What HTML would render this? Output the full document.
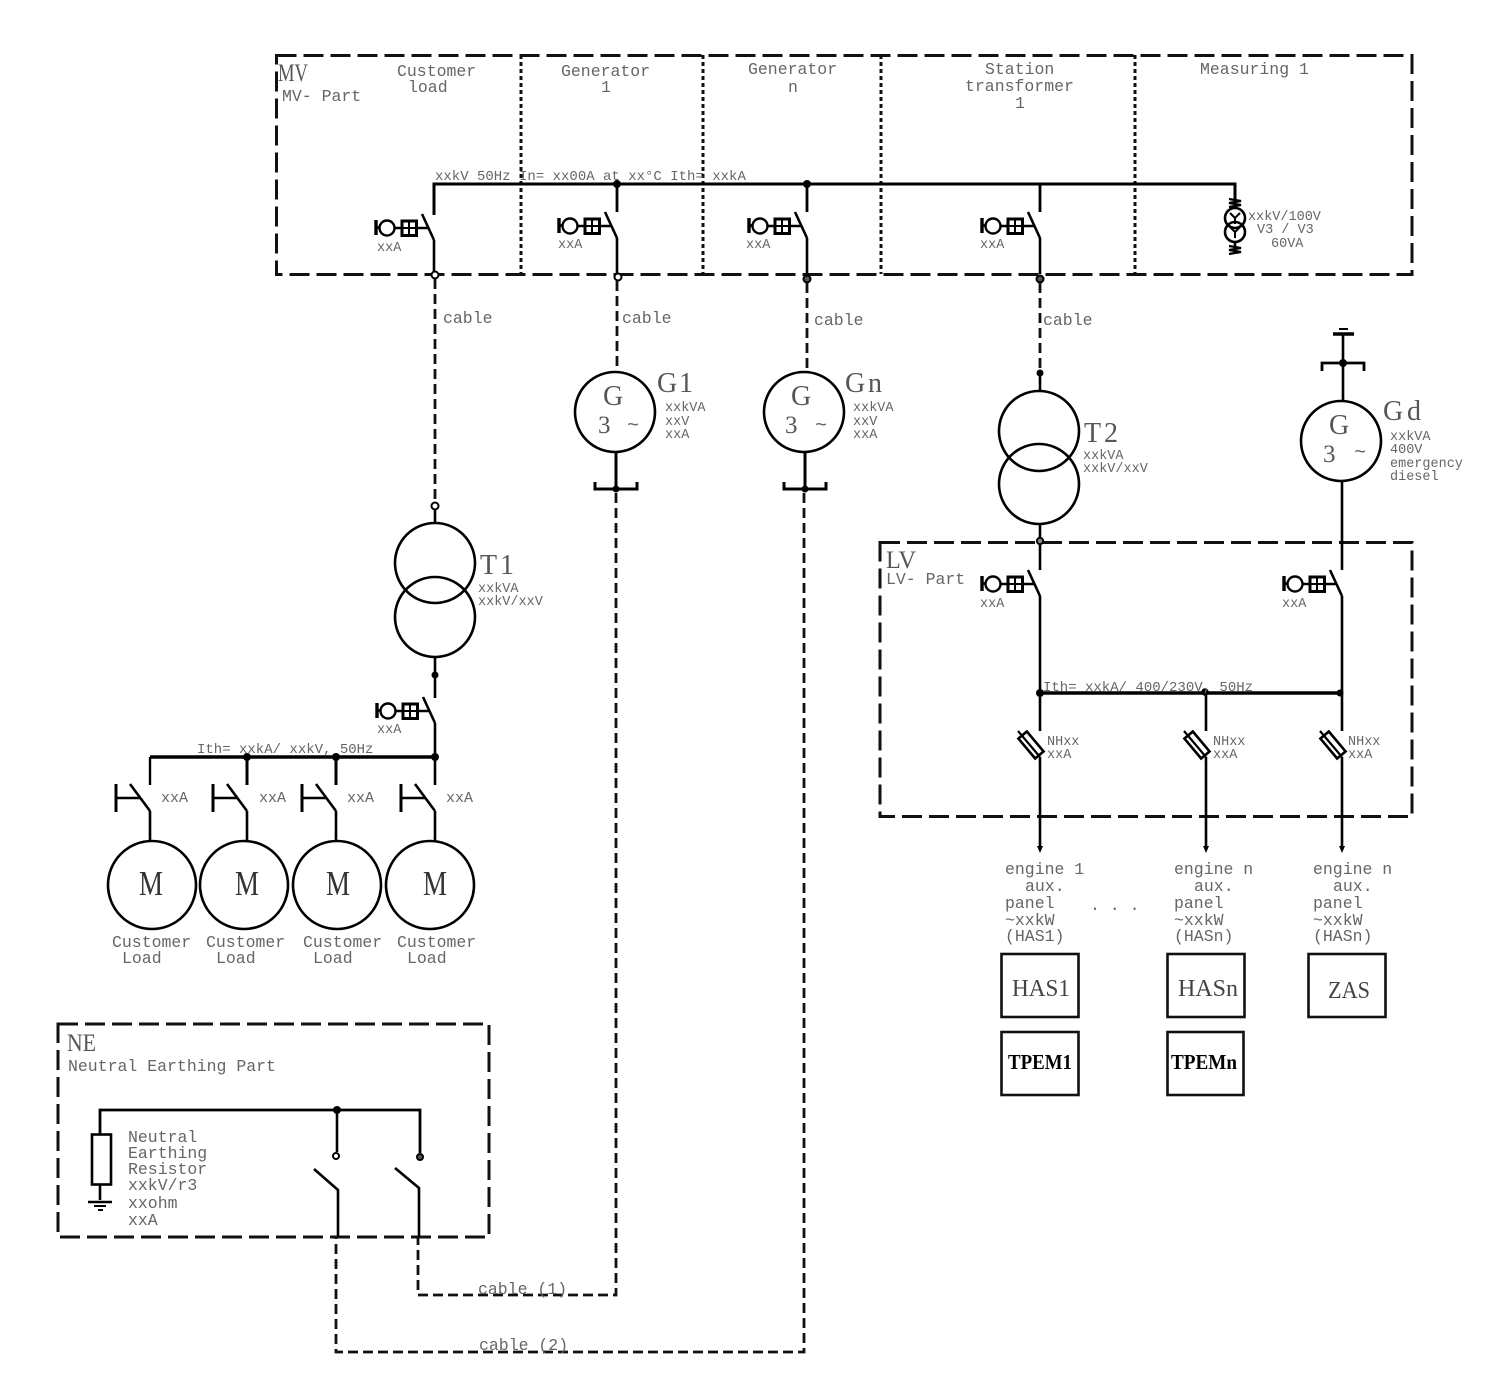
<!DOCTYPE html>
<html><head><meta charset="utf-8"><title>Single line diagram</title>
<style>
html,body{margin:0;padding:0;background:#fff}
svg{display:block}
text{font-family:"Liberation Mono",monospace;fill:#666;font-size:16.5px;white-space:pre}
.s{font-size:13.5px}
.m{font-size:14px}
.l{font-family:"Liberation Serif",serif;font-size:28px;fill:#555}
.b{font-family:"Liberation Serif",serif;font-size:25px;fill:#555}
.d{font-family:"Liberation Serif",serif;fill:#444;font-size:24px}
.k{font-family:"Liberation Serif",serif;fill:#000;font-size:21px;font-weight:bold}
.mm{font-family:"Liberation Serif",serif;fill:#333;font-size:35px}
.sym{fill:none;stroke:#000;stroke-width:2.6}
.bx{fill:none;stroke:#111;stroke-width:3;stroke-dasharray:20 7}
.dt{fill:none;stroke:#111;stroke-width:3;stroke-dasharray:4 3}
.cb{fill:none;stroke:#111;stroke-width:2.8;stroke-dasharray:10 5}
</style></head><body>
<svg width="1490" height="1400" viewBox="0 0 1490 1400" xmlns="http://www.w3.org/2000/svg">
<defs>
<g id="brk" class="sym">
<path d="M-58-20V-5" stroke-width="3.4"/><path d="M-58-12.500H-54"/>
<circle cx="-47" cy="-12" r="7.500" stroke-width="2.400"/>
<path d="M-39-12H-32M-18-12H-5"/>
<rect x="-32" y="-19" width="14.500" height="14.500" stroke-width="3"/><path d="M-25-19V-5M-32-12H-18" stroke-width="2"/>
<path d="M-12-26L0 0"/>
</g>
<g id="sw" class="sym">
<path d="M-34-14V14" stroke-width="3"/><path d="M-34 0H-10"/><path d="M-20-14L0 13"/>
</g>
<g id="fuse" class="sym">
<path d="M-22-26L0 0" stroke-width="2.200"/>
<rect x="-13" y="-5.500" width="26" height="11" transform="translate(-9 -12) rotate(50)" stroke-width="2.600"/>
</g>
<g id="brk2" class="sym"><path d="M-21-7V0H21V-7" stroke-width="3"/></g>
</defs>

<!-- boxes -->
<rect class="bx" x="276.500" y="55.500" width="1135.500" height="219"/>
<path class="dt" d="M521 55V274M703 55V274M881 55V274M1135 55V274"/>
<rect class="bx" x="880" y="542.500" width="532" height="274"/>
<rect class="bx" x="58" y="1024" width="431" height="213"/>

<!-- MV bus -->
<g class="sym">
<path d="M434 215V184H1235V205" stroke-width="3"/>
<path d="M617 184V212M807 184V212M1040 184V212" stroke-width="2.800"/>
<path d="M434 240V274M617 238V274M807 238V274M1040 238V274"/>
</g>
<use href="#brk" x="434" y="240"/>
<use href="#brk" x="617" y="238"/>
<use href="#brk" x="807" y="238"/>
<use href="#brk" x="1040" y="238"/>
<g fill="#000"><circle cx="617" cy="184" r="4"/><circle cx="807" cy="184" r="4"/></g>
<g stroke-width="2">
<circle cx="435" cy="275" r="3.500" fill="#fff" stroke="#000"/>
<circle cx="618" cy="277" r="3.500" fill="#fff" stroke="#000"/>
<circle cx="807" cy="279" r="3.500" fill="#555" stroke="#000"/>
<circle cx="1040" cy="279" r="3.500" fill="#555" stroke="#000"/>
</g>

<!-- VT -->
<g class="sym">
<circle cx="1235" cy="218" r="10" stroke-width="2.600"/><circle cx="1235" cy="232" r="10" stroke-width="2.600"/>
<path d="M1235 205V208M1235 242V254" />
<path d="M1229 199L1241 201L1229 203L1241 205L1229 207M1229 246L1241 248L1229 250L1241 252L1229 254" stroke-width="2.200"/>
<path d="M1235 218V224M1235 218L1230 213M1235 218L1240 213M1235 232V238M1235 232L1230 227M1235 232L1240 227" stroke-width="2"/>
</g>

<!-- cables -->
<path class="cb" d="M435 279V503"/>
<path class="cb" d="M617 281V372"/>
<path class="cb" d="M807 283V372"/>
<path class="cb" d="M1040 283V370"/>
<path class="cb" d="M616 493V1295H418V1237"/>
<path class="cb" d="M804 493V1352H336V1237"/>

<!-- T1 -->
<g class="sym">
<circle cx="435" cy="563" r="40"/><circle cx="435" cy="617" r="40"/>
<path d="M435 509V523M435 657V698M435 723V785"/>
<path d="M150 785V757" stroke-width="2.400"/><path d="M247 757V785M336 757V785" stroke-width="3"/>
<path d="M150 757H435" stroke-width="3.600"/>
<path d="M150 811V842M247 811V842M336 811V842M435 811V842"/>
<circle cx="152" cy="885" r="44"/><circle cx="244" cy="885" r="44"/><circle cx="337" cy="885" r="44"/><circle cx="430" cy="885" r="44"/>
</g>
<circle cx="435" cy="506" r="3.500" fill="#fff" stroke="#000" stroke-width="2"/>
<g fill="#000"><circle cx="435" cy="675" r="3.500"/><circle cx="247" cy="757" r="4"/><circle cx="336" cy="757" r="4"/><circle cx="435" cy="757" r="4"/></g>
<use href="#brk" x="435" y="723"/>
<use href="#sw" x="150" y="798"/>
<use href="#sw" x="247" y="798"/>
<use href="#sw" x="336" y="798"/>
<use href="#sw" x="435" y="798"/>

<!-- Generators -->
<g class="sym">
<circle cx="615" cy="412" r="40"/><circle cx="804" cy="412" r="40"/>
<path d="M616 452V489M805 452V489" stroke-width="3"/>
<circle cx="1039" cy="431" r="40"/><circle cx="1039" cy="484" r="40"/>
<path d="M1040 376V391M1040 524V570M1040 596V731M1040 757V850"/>
<circle cx="1341" cy="441" r="40"/>
<path d="M1343 335V401M1342 481V570M1342 596V731M1342 757V850"/>
<path d="M1206 693V731M1206 757V850"/>
<path d="M1040 693H1340" stroke-width="3.600"/>
<path d="M1322 371V363H1364V371" stroke-width="2.800"/>
<path d="M1333 334H1354" stroke-width="3.600"/><path d="M1339 329H1348" stroke-width="2"/>
</g>
<use href="#brk2" x="616" y="489"/>
<use href="#brk2" x="805" y="489"/>
<g fill="#000">
<circle cx="616" cy="489" r="3.500"/><circle cx="805" cy="489" r="3.500"/>
<circle cx="1343" cy="363" r="4"/>
<circle cx="1040" cy="693" r="4"/><circle cx="1205" cy="692" r="3.800"/><circle cx="1340" cy="693" r="3.500"/>
<circle cx="1040" cy="373" r="3.500"/>
<path d="M1037 846H1043L1040 853ZM1203 846H1209L1206 853ZM1339 846H1345L1342 853Z"/>
</g>
<circle cx="1040" cy="541" r="3.200" fill="#888" stroke="#000" stroke-width="1.800"/>
<use href="#brk" x="1040" y="596"/>
<use href="#brk" x="1342" y="596"/>
<use href="#fuse" x="1040" y="757"/>
<use href="#fuse" x="1206" y="757"/>
<use href="#fuse" x="1342" y="757"/>

<!-- NE -->
<g class="sym">
<path d="M100 1134V1110H420V1153" stroke-width="2.800"/>
<rect x="92" y="1134.500" width="19" height="50"/>
<path d="M100 1184V1200"/>
<path d="M88 1202H112" stroke-width="2.600"/><path d="M94 1206H106" stroke-width="2"/><path d="M98 1210H103" stroke-width="2"/>
<path d="M337 1110V1152"/>
<path d="M314 1169L338 1190V1237M395 1168L419 1188V1237"/>
</g>
<circle cx="337" cy="1110" r="4"/>
<circle cx="336" cy="1156" r="3" fill="#fff" stroke="#000" stroke-width="2"/>
<circle cx="420" cy="1157" r="3" fill="#555" stroke="#000" stroke-width="2"/>

<!-- Panels -->
<g fill="none" stroke="#111" stroke-width="2.600">
<rect x="1001.500" y="954" width="77" height="63"/>
<rect x="1167.500" y="954" width="77" height="63"/>
<rect x="1308.500" y="954" width="77" height="63"/>
<rect x="1001.500" y="1032" width="77" height="63"/>
<rect x="1167.500" y="1032" width="76" height="63"/>
</g>

<!-- Labels: MV -->
<text class="b" x="278" y="81" textLength="30" lengthAdjust="spacingAndGlyphs">MV</text>
<text x="282" y="101">MV- Part</text>
<text x="397" y="76">Customer</text><text x="408" y="92">load</text>
<text x="561" y="76">Generator</text><text x="601" y="92">1</text>
<text x="748" y="74">Generator</text><text x="788" y="92">n</text>
<text x="985" y="74">Station</text><text x="965" y="91">transformer</text><text x="1015" y="108">1</text>
<text x="1200" y="74">Measuring 1</text>
<text class="m" x="435" y="180">xxkV 50Hz In= xx00A at xx°C Ith= xxkA</text>
<text class="s" x="377" y="251">xxA</text><text class="s" x="558" y="248">xxA</text><text class="s" x="746" y="248">xxA</text><text class="s" x="980" y="248">xxA</text>
<text class="s" x="1248" y="220">xxkV/100V</text><text class="s" x="1257" y="233">V3 / V3</text><text class="s" x="1271" y="247">60VA</text>
<text x="443" y="323">cable</text><text x="622" y="323">cable</text><text x="814" y="325">cable</text><text x="1043" y="325">cable</text>

<!-- Generators -->
<text class="l" x="657" y="392" textLength="36">G1</text>
<text class="s" x="665" y="411">xxkVA</text><text class="s" x="665" y="425">xxV</text><text class="s" x="665" y="438">xxA</text>
<text class="l" x="845" y="392" textLength="37">Gn</text>
<text class="s" x="853" y="411">xxkVA</text><text class="s" x="853" y="425">xxV</text><text class="s" x="853" y="438">xxA</text>
<text class="l" x="1383" y="420" textLength="38">Gd</text>
<text class="s" x="1390" y="440">xxkVA</text><text class="s" x="1390" y="453">400V</text><text class="s" x="1390" y="467">emergency</text><text class="s" x="1390" y="480">diesel</text>
<text class="l" x="603" y="405">G</text><text class="l" x="791" y="405">G</text><text class="l" x="1329" y="434">G</text>
<text class="b" x="598" y="433">3</text><text class="b" x="785" y="433">3</text><text class="b" x="1323" y="462">3</text>
<text x="627" y="431" style="font-size:20px">~</text><text x="815" y="431" style="font-size:20px">~</text><text x="1354" y="458" style="font-size:20px">~</text>

<!-- Transformers -->
<text class="l" x="480" y="574" textLength="34">T1</text>
<text class="s" x="478" y="592">xxkVA</text><text class="s" x="478" y="605">xxkV/xxV</text>
<text class="l" x="1084" y="442" textLength="34">T2</text>
<text class="s" x="1083" y="459">xxkVA</text><text class="s" x="1083" y="472">xxkV/xxV</text>

<!-- Customer load -->
<text class="s" x="377" y="733">xxA</text>
<text class="m" x="197" y="753">Ith= xxkA/ xxkV, 50Hz</text>
<text class="m" x="161" y="802" style="font-size:15px">xxA</text><text class="m" x="259" y="802" style="font-size:15px">xxA</text><text class="m" x="347" y="802" style="font-size:15px">xxA</text><text class="m" x="446" y="802" style="font-size:15px">xxA</text>
<text class="mm" x="139" y="895" textLength="24" lengthAdjust="spacingAndGlyphs">M</text><text class="mm" x="235" y="895" textLength="24" lengthAdjust="spacingAndGlyphs">M</text><text class="mm" x="326" y="895" textLength="24" lengthAdjust="spacingAndGlyphs">M</text><text class="mm" x="423" y="895" textLength="24" lengthAdjust="spacingAndGlyphs">M</text>
<text x="112" y="947">Customer</text><text x="122" y="963">Load</text>
<text x="206" y="947">Customer</text><text x="216" y="963">Load</text>
<text x="303" y="947">Customer</text><text x="313" y="963">Load</text>
<text x="397" y="947">Customer</text><text x="407" y="963">Load</text>

<!-- LV -->
<text class="b" x="886" y="568" textLength="30" lengthAdjust="spacingAndGlyphs">LV</text>
<text x="886" y="584">LV- Part</text>
<text class="s" x="980" y="607">xxA</text><text class="s" x="1282" y="607">xxA</text>
<text class="m" x="1043" y="691">Ith= xxkA/ 400/230V, 50Hz</text>
<text class="s" x="1047" y="745">NHxx</text><text class="s" x="1047" y="758">xxA</text>
<text class="s" x="1213" y="745">NHxx</text><text class="s" x="1213" y="758">xxA</text>
<text class="s" x="1348" y="745">NHxx</text><text class="s" x="1348" y="758">xxA</text>

<text x="1005" y="874">engine 1</text><text x="1025" y="891">aux.</text><text x="1005" y="908">panel</text><text x="1005" y="925">~xxkW</text><text x="1005" y="941">(HAS1)</text>
<text x="1174" y="874">engine n</text><text x="1194" y="891">aux.</text><text x="1174" y="908">panel</text><text x="1174" y="925">~xxkW</text><text x="1174" y="941">(HASn)</text>
<text x="1313" y="874">engine n</text><text x="1333" y="891">aux.</text><text x="1313" y="908">panel</text><text x="1313" y="925">~xxkW</text><text x="1313" y="941">(HASn)</text>
<text x="1090" y="910">. . .</text>

<text class="d" x="1012" y="996" textLength="58" lengthAdjust="spacingAndGlyphs">HAS1</text><text class="d" x="1178" y="996" textLength="60" lengthAdjust="spacingAndGlyphs">HASn</text><text class="d" x="1328" y="998" textLength="42" lengthAdjust="spacingAndGlyphs">ZAS</text>
<text class="k" x="1008" y="1069" textLength="64" lengthAdjust="spacingAndGlyphs">TPEM1</text><text class="k" x="1171" y="1069" textLength="66" lengthAdjust="spacingAndGlyphs">TPEMn</text>

<!-- NE labels -->
<text class="b" x="67" y="1051" textLength="29" lengthAdjust="spacingAndGlyphs">NE</text>
<text x="68" y="1071">Neutral Earthing Part</text>
<text x="128" y="1142">Neutral</text><text x="128" y="1158">Earthing</text><text x="128" y="1174">Resistor</text><text x="128" y="1190">xxkV/r3</text><text x="128" y="1208">xxohm</text><text x="128" y="1225">xxA</text>
<text x="478" y="1294">cable (1)</text>
<text x="479" y="1350">cable (2)</text>
</svg>
</body></html>
